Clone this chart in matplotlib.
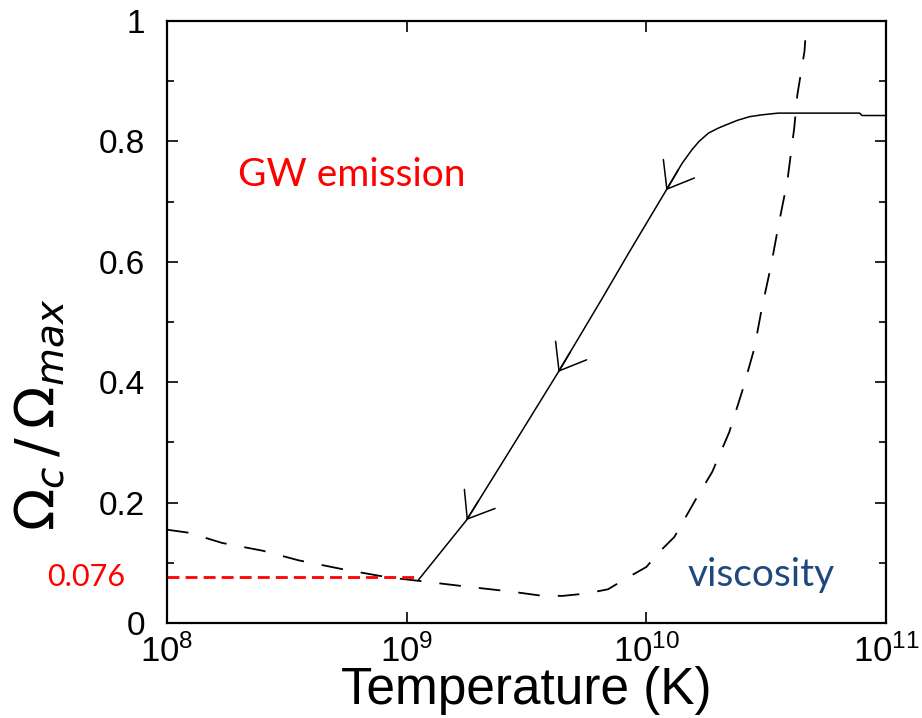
import matplotlib.pyplot as plt
import numpy as np
from matplotlib.ticker import FixedLocator, MultipleLocator, NullLocator, FuncFormatter

plt.rcParams['font.family'] = ['Liberation Sans', 'DejaVu Sans']
plt.rcParams['mathtext.fontset'] = 'custom'
plt.rcParams['mathtext.rm'] = 'Liberation Sans'
plt.rcParams['mathtext.it'] = 'Liberation Sans:italic'

# evolution track of the critical spin (solid), x stored as log10(T / K)
track_logT = [9.05, 9.25, 9.45, 9.633, 9.8125, 9.93, 10.083, 10.15, 10.19,
              10.22, 10.26, 10.30, 10.33, 10.38, 10.43, 10.48, 10.55, 10.89,
              10.90, 11.0]
track_omega = [0.072, 0.171, 0.299, 0.417, 0.537, 0.617, 0.719, 0.764, 0.786,
               0.800, 0.814, 0.822, 0.827, 0.835, 0.841, 0.844, 0.847, 0.847,
               0.843, 0.843]
arrow_logT = [9.25, 9.633, 10.083]

# viscous damping boundary (dashed)
visc_logT = [8.00, 8.09, 8.23, 8.40, 8.55, 8.75, 8.92, 9.05, 9.26, 9.44,
             9.55, 9.65, 9.75, 9.84, 9.92, 10.00, 10.054, 10.117, 10.21,
             10.275, 10.346, 10.40, 10.45, 10.483, 10.52, 10.554, 10.588,
             10.617, 10.63, 10.66, 10.663]
visc_omega = [0.155, 0.150, 0.133, 0.120, 0.104, 0.088, 0.076, 0.070, 0.060,
              0.052, 0.046, 0.045, 0.049, 0.056, 0.075, 0.093, 0.118, 0.143,
              0.208, 0.251, 0.317, 0.385, 0.455, 0.525, 0.593, 0.666, 0.733,
              0.822, 0.877, 0.950, 0.968]

omega_final = 0.076
omega_final_logT = 9.05

fig = plt.figure(figsize=(9.22, 7.18), dpi=100)
ax = fig.add_axes([167 / 922, 95 / 718, 719 / 922, 602 / 718])

T_track = 10 ** np.array(track_logT)
T_visc = 10 ** np.array(visc_logT)

ax.plot(T_visc, visc_omega, color='k', lw=1.3, dashes=(12, 10))
ax.plot(T_track, track_omega, color='k', lw=1.1)

# direction arrows along the track, pointing towards lower temperature
for lt in arrow_logT:
    tip = np.interp(lt, track_logT, track_omega)
    tail = np.interp(lt + 0.05, track_logT, track_omega)
    ax.annotate('', xy=(10 ** lt, tip), xytext=(10 ** (lt + 0.05), tail),
                arrowprops=dict(arrowstyle='->,head_length=1.7,head_width=1.3',
                                lw=1.1, color='k', shrinkA=0, shrinkB=0,
                                mutation_scale=10))

ax.plot([1e8, 10 ** omega_final_logT], [omega_final, omega_final],
        color='#ff0000', lw=2, dashes=(4.3, 2.2))

ax.set_xscale('log')
ax.set_xlim(1e8, 1e11)
ax.set_ylim(0, 1)
ax.xaxis.set_major_locator(FixedLocator([1e8, 1e9, 1e10, 1e11]))
ax.xaxis.set_minor_locator(NullLocator())
ax.yaxis.set_major_locator(MultipleLocator(0.2))
ax.yaxis.set_minor_locator(MultipleLocator(0.1))
ax.yaxis.set_major_formatter(FuncFormatter(lambda v, p: '%g' % round(v, 1)))

ax.tick_params(which='both', direction='in', top=True, right=True, width=1.2)
ax.tick_params(which='major', length=8)
ax.tick_params(axis='y', which='major', pad=16, labelsize=24)
ax.tick_params(axis='x', which='major', pad=8, labelsize=25)
ax.tick_params(which='minor', length=5)
for s in ax.spines.values():
    s.set_linewidth(1.6)

ax.set_xlabel('Temperature (K)', fontsize=37, labelpad=-2)
ax.set_ylabel(r'$\Omega_c\,/\,\Omega_{max}$', fontsize=40,
              math_fontfamily='dejavusans')
ax.yaxis.set_label_coords(-0.14, 0.346)

ax.text(10 ** 8.77, 0.745, 'GW emission', color='#ff0000', fontsize=28,
        family=['Lato', 'DejaVu Sans'], ha='center', va='center')
ax.text(-0.112, omega_final, '0.076', transform=ax.get_yaxis_transform(),
        color='#ff0000', fontsize=22, family=['Lato', 'DejaVu Sans'],
        ha='center', va='center')
ax.text(10 ** 10.48, 0.08, 'viscosity', color='#1f497d', fontsize=28,
        family=['Lato', 'DejaVu Sans'], ha='center', va='center')

fig.savefig('out.png', dpi=100, facecolor='white')
